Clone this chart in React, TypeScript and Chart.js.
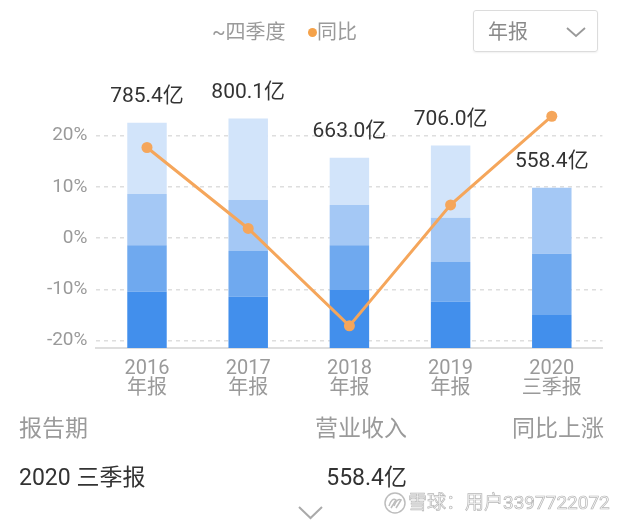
import React, { useEffect, useRef } from "react";
import { Chart, registerables } from "chart.js";

Chart.register(...registerables);

const FONT = "Roboto, 'Noto Sans CJK SC', sans-serif";

const categories = [
  ["2016", "年报"],
  ["2017", "年报"],
  ["2018", "年报"],
  ["2019", "年报"],
  ["2020", "三季报"],
];
const q1 = [196.3, 178.9, 202.0, 161.4, 115.0];
const q2 = [161.8, 159.4, 156.0, 138.4, 213.5];
const q3 = [178.9, 177.8, 140.5, 154.5, 229.9];
const q4 = [248.4, 284.0, 164.5, 251.7, null];
const totals = [785.4, 800.1, 663.0, 706.0, 558.4];
const totalLabels = ["785.4亿", "800.1亿", "663.0亿", "706.0亿", "558.4亿"];
const yoy = [17.7, 1.9, -17.1, 6.5, 23.8];
const pctTicks = [-20, -10, 0, 10, 20];
const quarterNames = ["一季度", "二季度", "三季度", "四季度"];
const quarterColors = ["#428fec", "#6fa9ef", "#a4c8f5", "#d2e4fa"];

const labelPlugin = {
  id: "totalLabels",
  afterDatasetsDraw(chart: any) {
    const { ctx, scales } = chart;
    const xs = scales.x;
    const ys = scales.y2;
    ctx.save();
    ctx.font = `21px ${FONT}`;
    ctx.fillStyle = "#333333";
    ctx.textAlign = "center";
    ctx.textBaseline = "middle";
    totals.forEach((t, i) => {
      const x = xs.getPixelForValue(i);
      const y = ys.getPixelForValue(t) - 26;
      ctx.fillText(totalLabels[i], x, y);
    });
    ctx.restore();
  },
};

export default function App() {
  const ref = useRef<HTMLCanvasElement | null>(null);

  useEffect(() => {
    if (!ref.current) return;
    const qData = [q1, q2, q3, q4];
    const chart = new Chart(ref.current, {
      type: "bar",
      data: {
        labels: categories as any,
        datasets: [
          {
            type: "line",
            label: "同比",
            data: yoy,
            yAxisID: "y",
            borderColor: "#f5a65b",
            backgroundColor: "#f5a65b",
            borderWidth: 3,
            pointRadius: 5.5,
            pointBorderWidth: 0,
            pointBackgroundColor: "#f5a65b",
            tension: 0,
            order: 0,
          } as any,
          ...qData.map((d, k) => ({
            type: "bar",
            label: quarterNames[k],
            data: d,
            yAxisID: "y2",
            stack: "rev",
            backgroundColor: quarterColors[k],
            barPercentage: 0.39,
            categoryPercentage: 1,
            borderWidth: 0,
            order: 1,
          })) as any,
        ],
      },
      options: {
        responsive: false,
        animation: false,
        layout: { padding: { top: 100, right: 27.6, bottom: 116, left: 0 } },
        plugins: { legend: { display: false }, tooltip: { enabled: false } },
        scales: {
          x: {
            stacked: true,
            grid: { display: false },
            border: { display: true, color: "#dedede", width: 2 },
            ticks: {
              color: "#9a9a9a",
              font: { size: 20, lineHeight: 1, family: FONT },
              padding: 3,
              maxRotation: 0,
              autoSkip: false,
            },
            afterFit: (s: any) => {
              s.height = 60;
            },
          },
          y: {
            position: "left",
            min: -21.42,
            max: 26.97,
            afterBuildTicks: (s: any) => {
              s.ticks = pctTicks.map((v) => ({ value: v }));
            },
            ticks: {
              callback: (v: any) => `${v}%`,
              color: "#9a9a9a",
              font: { size: 19, family: FONT },
              padding: 9,
            },
            grid: { color: "#dedede", lineWidth: 1.5, drawTicks: false },
            border: { display: false, dash: [4, 4] },
            afterFit: (s: any) => {
              s.width = 96.4;
            },
          },
          y2: {
            display: false,
            stacked: true,
            min: 0,
            max: 864.8,
          },
        },
      } as any,
      plugins: [labelPlugin],
    });
    return () => chart.destroy();
  }, []);

  const abs = (o: React.CSSProperties): React.CSSProperties => ({
    position: "absolute",
    whiteSpace: "nowrap",
    fontFamily: FONT,
    ...o,
  });

  return (
    <div
      style={{
        position: "absolute",
        left: 0,
        top: 0,
        width: 630,
        height: 524,
        background: "#ffffff",
        overflow: "hidden",
      }}
    >
      <canvas
        ref={ref}
        width={630}
        height={524}
        style={{ position: "absolute", left: 0, top: 0 }}
      />
      {/* legend */}
      <div style={abs({ left: 212, top: 18, fontSize: 20, lineHeight: "28px", color: "#9a9a9a" })}>
        ~四季度
      </div>
      <div
        style={abs({
          left: 308,
          top: 27.5,
          width: 9,
          height: 9,
          borderRadius: "50%",
          background: "#f5a24a",
        })}
      />
      <div style={abs({ left: 317, top: 18, fontSize: 20, lineHeight: "28px", color: "#9a9a9a" })}>
        同比
      </div>
      {/* dropdown */}
      <div
        style={abs({
          left: 473,
          top: 10,
          width: 123,
          height: 40,
          border: "1.5px solid #dcdcdc",
          borderRadius: 3,
          boxShadow: "0 1px 2px rgba(0,0,0,0.06)",
        })}
      />
      <div style={abs({ left: 488, top: 18, fontSize: 20, lineHeight: "28px", color: "#8a8a8a" })}>
        年报
      </div>
      <svg style={abs({ left: 564, top: 24 })} width={24} height={16}>
        <polyline points="3,4 12,12 21,4" fill="none" stroke="#999" strokeWidth={1.8} />
      </svg>
      {/* table */}
      <div style={abs({ left: 19, top: 414, fontSize: 23, lineHeight: "30px", color: "#9a9a9a" })}>
        报告期
      </div>
      <div style={abs({ right: 223, top: 414, fontSize: 23, lineHeight: "30px", color: "#9a9a9a" })}>
        营业收入
      </div>
      <div style={abs({ right: 26, top: 414, fontSize: 23, lineHeight: "30px", color: "#9a9a9a" })}>
        同比上涨
      </div>
      <div style={abs({ left: 19, top: 463, fontSize: 23, lineHeight: "30px", color: "#333333" })}>
        2020 三季报
      </div>
      <div style={abs({ right: 223, top: 463, fontSize: 23, lineHeight: "30px", color: "#333333" })}>
        558.4亿
      </div>
      <svg style={abs({ left: 297, top: 504 })} width={28} height={18}>
        <polyline points="2,3 13.5,14 25,3" fill="none" stroke="#aaa" strokeWidth={2} />
      </svg>
      {/* watermark */}
      <svg style={abs({ left: 383, top: 491 })} width={24} height={24}>
        <circle cx={12} cy={12} r={10} fill="#ffffff" stroke="#bdbdbd" strokeWidth={1.5} />
        <path d="M6,15 Q9,6 13,9 Q10,14 8,17" fill="none" stroke="#bdbdbd" strokeWidth={1.5} />
        <path d="M11,15 Q14,7 18,9 Q15,14 13,17" fill="none" stroke="#bdbdbd" strokeWidth={1.5} />
      </svg>
      <div
        style={abs({
          left: 408,
          top: 490,
          fontSize: 19,
          lineHeight: "26px",
          color: "#f7f7f7",
          WebkitTextStroke: "0.7px #b8b8b8",
        })}
      >
        雪球：用户3397722072
      </div>
    </div>
  );
}
